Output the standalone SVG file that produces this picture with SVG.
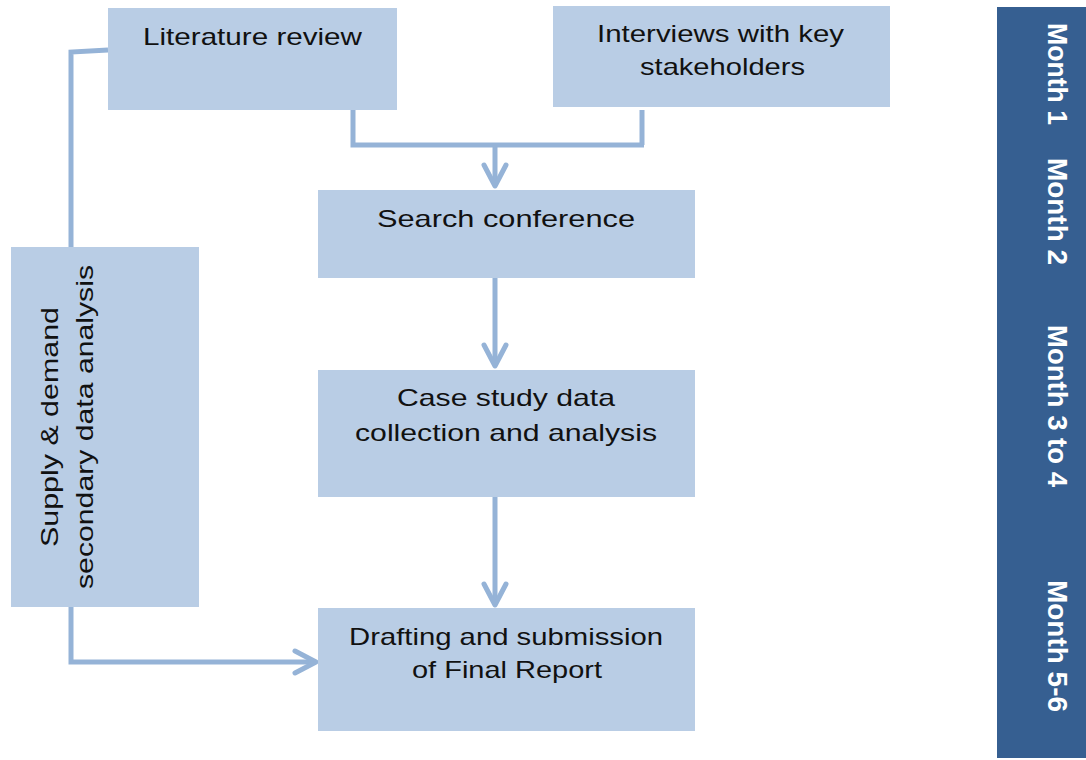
<svg xmlns="http://www.w3.org/2000/svg" width="1086" height="760" viewBox="0 0 1086 760">
<style>
.box{fill:#B9CDE5;}
.t{font-family:"Liberation Sans","DejaVu Sans",sans-serif;font-size:24px;fill:#111;}
.m{font-family:"Liberation Sans","DejaVu Sans",sans-serif;font-size:27px;font-weight:bold;fill:#fff;}
.c{fill:none;stroke:#95B3D7;stroke-width:5;}
</style>
<defs>
<marker id="chev" markerUnits="userSpaceOnUse" viewBox="-26 -16 32 32" markerWidth="32" markerHeight="32" refX="0" refY="0" orient="auto">
<path d="M-21,-11 L0,0 L-21,11" fill="none" stroke="#95B3D7" stroke-width="5" stroke-linecap="round" stroke-linejoin="round"/>
</marker>
</defs>
<rect x="0" y="0" width="1086" height="760" fill="#fff"/>
<g id="connectors">
<polyline class="c" points="108,50 71,52 71,247"/>
<polyline class="c" points="71,607 71,662 316,662" marker-end="url(#chev)"/>
<polyline class="c" points="353,110 353,145 644,145"/>
<line class="c" x1="642" y1="110" x2="642" y2="145"/>
<line class="c" x1="495" y1="145" x2="495" y2="186" marker-end="url(#chev)"/>
<line class="c" x1="495" y1="278" x2="495" y2="366" marker-end="url(#chev)"/>
<line class="c" x1="495" y1="497" x2="495" y2="605" marker-end="url(#chev)"/>
</g>
<g id="literature-review">
<rect class="box" x="108" y="8" width="289" height="102"/>
<text class="t" x="143" y="45" textLength="219" lengthAdjust="spacingAndGlyphs">Literature review</text>
</g>
<g id="interviews">
<rect class="box" x="553" y="6" width="337" height="101"/>
<text class="t" x="597" y="42" textLength="247" lengthAdjust="spacingAndGlyphs">Interviews with key</text>
<text class="t" x="640" y="75" textLength="165" lengthAdjust="spacingAndGlyphs">stakeholders</text>
</g>
<g id="search-conference">
<rect class="box" x="318" y="190" width="377" height="88"/>
<text class="t" x="377" y="227" textLength="258" lengthAdjust="spacingAndGlyphs">Search conference</text>
</g>
<g id="case-study">
<rect class="box" x="318" y="370" width="377" height="127"/>
<text class="t" x="397" y="406" textLength="218" lengthAdjust="spacingAndGlyphs">Case study data</text>
<text class="t" x="355" y="441" textLength="302" lengthAdjust="spacingAndGlyphs">collection and analysis</text>
</g>
<g id="drafting">
<rect class="box" x="318" y="608" width="377" height="123"/>
<text class="t" x="349" y="645" textLength="314" lengthAdjust="spacingAndGlyphs">Drafting and submission</text>
<text class="t" x="412" y="678" textLength="190" lengthAdjust="spacingAndGlyphs">of Final Report</text>
</g>
<g id="supply-demand">
<rect class="box" x="11" y="247" width="188" height="360"/>
<text class="t" transform="translate(58,427) rotate(-90)" x="0" y="0" text-anchor="middle" textLength="240" lengthAdjust="spacingAndGlyphs">Supply &amp; demand</text>
<text class="t" transform="translate(93,427) rotate(-90)" x="0" y="0" text-anchor="middle" textLength="324" lengthAdjust="spacingAndGlyphs">secondary data analysis</text>
</g>
<g id="timeline">
<rect x="997" y="7" width="89" height="751" fill="#365F91"/>
<text class="m" transform="translate(1048,23) rotate(90)" x="0" y="0" textLength="102" lengthAdjust="spacingAndGlyphs">Month 1</text>
<text class="m" transform="translate(1048,158) rotate(90)" x="0" y="0" textLength="107" lengthAdjust="spacingAndGlyphs">Month 2</text>
<text class="m" transform="translate(1048,325) rotate(90)" x="0" y="0" textLength="162" lengthAdjust="spacingAndGlyphs">Month 3 to 4</text>
<text class="m" transform="translate(1048,580) rotate(90)" x="0" y="0" textLength="132" lengthAdjust="spacingAndGlyphs">Month 5-6</text>
</g>
</svg>
